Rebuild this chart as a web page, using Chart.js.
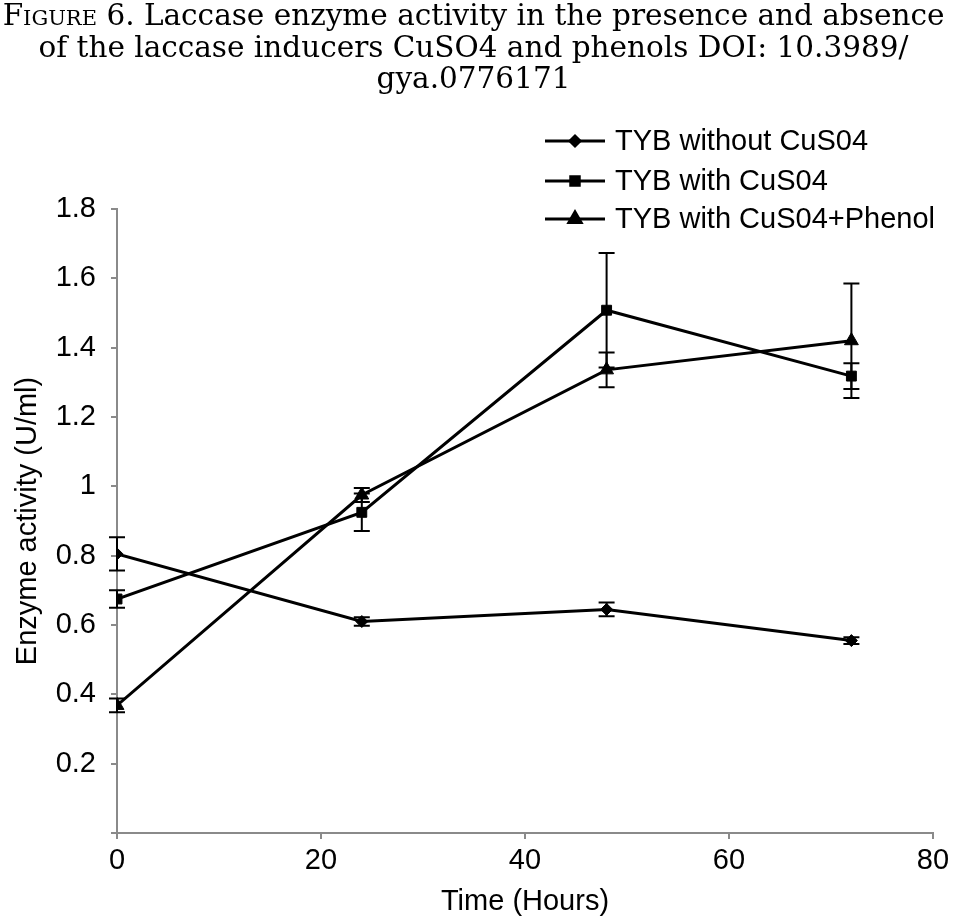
<!DOCTYPE html>
<html>
<head>
<meta charset="utf-8">
<script src="https://cdn.jsdelivr.net/npm/chart.js@4.4.1/dist/chart.umd.min.js"></script>
<style>
  html, body { margin: 0; padding: 0; background: #fff; }
  #wrap { position: relative; width: 955px; height: 920px; }
  #title {
    position: absolute; left: -4px; top: 0px; width: 955px;
    text-align: center; font-family: "DejaVu Serif", "Liberation Serif", serif;
    font-size: 29.5px; line-height: 31.5px; color: #000;
  }
  #title .sc { font-variant: small-caps; }
</style>
</head>
<body>
<div id="wrap">
  <div id="title"><span class="sc">Figure</span> 6. Laccase enzyme activity in the presence and absence<br>of the laccase inducers CuSO4 and phenols DOI: 10.3989/<br>gya.0776171</div>
  <canvas id="chart" width="955" height="920"></canvas>
</div>
<script>
const hours = [0, 24, 48, 72];

const seriesNames = ["TYB without CuS04", "TYB with CuS04", "TYB with CuS04+Phenol"];

const withoutCu = [0.805, 0.61, 0.645, 0.555];
const withoutCuErr = [0.048, 0.012, 0.02, 0.01];

const withCu = [0.675, 0.925, 1.508, 1.318];
const withCuErr = [0.025, 0.054, 0.165, 0.037];

const withCuPhenol = [0.368, 0.975, 1.336, 1.42];
const withCuPhenolErr = [0.02, 0.02, 0.05, 0.165];

const xTicks = [0, 20, 40, 60, 80];
const yTicks = [0.2, 0.4, 0.6, 0.8, 1, 1.2, 1.4, 1.6, 1.8];

const markers = ["rectRot", "rect", "triangle"];
const markerSize = [6, 7, 8];
const errors = [withoutCuErr, withCuErr, withCuPhenolErr];

const font = "Liberation Sans, Arial, sans-serif";
const fontSize = 29;
const axisGrey = "#8a8a8a";

const toPoints = (vals) => vals.map((v, i) => ({ x: hours[i], y: v }));

// error bars, drawn from the scales
const errorBars = {
  id: "errorBars",
  afterDatasetsDraw(chart) {
    const ctx = chart.ctx;
    const xs = chart.scales.x;
    const ys = chart.scales.y;
    ctx.save();
    ctx.strokeStyle = "#000";
    ctx.lineWidth = 2;
    chart.data.datasets.forEach((ds, d) => {
      ds.data.forEach((p, i) => {
        const e = errors[d][i];
        const px = xs.getPixelForValue(p.x);
        const top = ys.getPixelForValue(p.y + e);
        const bot = ys.getPixelForValue(p.y - e);
        ctx.beginPath();
        ctx.moveTo(px, top);
        ctx.lineTo(px, bot);
        ctx.moveTo(px - 8, top);
        ctx.lineTo(px + 8, top);
        ctx.moveTo(px - 8, bot);
        ctx.lineTo(px + 8, bot);
        ctx.stroke();
      });
    });
    ctx.restore();
  }
};

// legend with line + marker, like the spreadsheet one
const lineLegend = {
  id: "lineLegend",
  afterDraw(chart) {
    const ctx = chart.ctx;
    const x0 = 545, x1 = 605, rows = [141, 181, 219];
    ctx.save();
    chart.data.datasets.forEach((ds, d) => {
      const y = rows[d];
      ctx.strokeStyle = "#000";
      ctx.lineWidth = 3;
      ctx.beginPath();
      ctx.moveTo(x0, y);
      ctx.lineTo(x1, y);
      ctx.stroke();
      Chart.helpers.drawPoint(ctx, {
        pointStyle: markers[d],
        radius: markerSize[d] - 1,
        borderWidth: 1
      }, (x0 + x1) / 2, y);
      ctx.fillStyle = "#000";
      ctx.font = fontSize + "px " + font;
      ctx.textBaseline = "middle";
      ctx.fillText(ds.label, 615, y + 1);
    });
    ctx.restore();
  }
};

const makeSet = (label, vals, d) => ({
  label: label,
  data: toPoints(vals),
  borderColor: "#000",
  backgroundColor: "#000",
  borderWidth: 3,
  pointStyle: markers[d],
  pointRadius: markerSize[d],
  pointBorderWidth: 1,
  tension: 0
});

new Chart(document.getElementById("chart"), {
  type: "line",
  data: {
    datasets: [
      makeSet(seriesNames[0], withoutCu, 0),
      makeSet(seriesNames[1], withCu, 1),
      makeSet(seriesNames[2], withCuPhenol, 2)
    ]
  },
  options: {
    responsive: false,
    animation: false,
    layout: { padding: { top: 209, right: 22, left: 0, bottom: 0 } },
    plugins: { legend: { display: false }, tooltip: { enabled: false } },
    scales: {
      x: {
        type: "linear",
        min: 0,
        max: 80,
        afterFit(scale) { scale.height = 87; },
        afterBuildTicks(scale) { scale.ticks = xTicks.map(v => ({ value: v })); },
        ticks: { color: "#000", font: { family: font, size: fontSize }, padding: 5, maxRotation: 0 },
        grid: { drawOnChartArea: false, drawTicks: true, tickLength: 6, color: axisGrey, lineWidth: 2 },
        border: { color: axisGrey, width: 2 },
        title: { display: true, text: "Time (Hours)", color: "#000", font: { family: font, size: fontSize }, padding: { top: 4, bottom: 1 } }
      },
      y: {
        min: 0,
        max: 1.8,
        afterFit(scale) { scale.width = 117; },
        afterBuildTicks(scale) { scale.ticks = [0].concat(yTicks).map(v => ({ value: v })); },
        ticks: {
          color: "#000",
          font: { family: font, size: fontSize },
          padding: 15,
          callback: (v) => (v === 0 ? "" : String(Math.round(v * 10) / 10))
        },
        grid: { drawOnChartArea: false, drawTicks: true, tickLength: 6, color: axisGrey, lineWidth: 2 },
        border: { color: axisGrey, width: 2 },
        title: { display: true, text: "Enzyme activity (U/ml)", color: "#000", font: { family: font, size: fontSize }, padding: { top: 11, bottom: 4 } }
      }
    }
  },
  plugins: [errorBars, lineLegend]
});
</script>
</body>
</html>
